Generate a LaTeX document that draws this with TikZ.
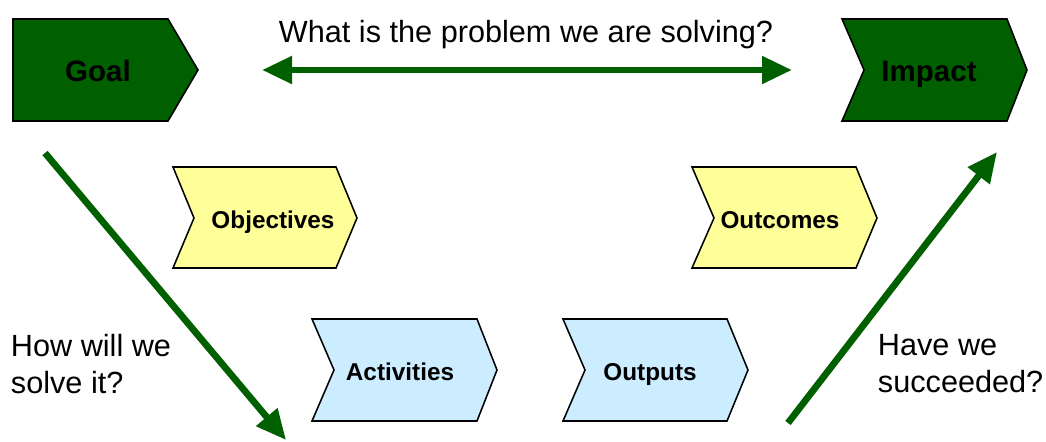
\documentclass[tikz,border=0pt]{standalone}
\usepackage{fontspec}
\setmainfont{Liberation Sans}
\usetikzlibrary{arrows.meta}

\definecolor{darkgreen}{RGB}{0,96,0}
\definecolor{palegold}{RGB}{255,255,153}
\definecolor{paleblue}{RGB}{204,236,255}

\tikzset{
  stage/.style={draw=black, line width=1.1pt, line join=miter},
  big/.style={anchor=base, font=\bfseries\fontsize{21}{25}\selectfont},
  small/.style={anchor=base, font=\bfseries\fontsize{17.3}{20}\selectfont},
  question/.style={font=\fontsize{21.8}{26.2}\selectfont, align=left},
  flow/.style={draw=darkgreen, line width=4.8pt,
    >={Triangle[length=0.75cm,width=0.66cm]}}
}

\begin{document}
\begin{tikzpicture}[x=0.025cm, y=-0.025cm]
  \useasboundingbox (0,0) rectangle (1046,441);

  % the two ends
  \draw[stage, fill=darkgreen] (13,19) -- (168,19) -- (198,70) -- (168,121) -- (13,121) -- cycle;
  \draw[stage, fill=darkgreen] (842,19) -- (1007,19) -- (1027,70) -- (1007,121) -- (842,121) -- (864,70) -- cycle;
  \node[big] (goal) at (98,81) {Goal};
  \node[big] (impact) at (929,81) {Impact};

  % middle row
  \draw[stage, fill=palegold] (173,167) -- (336,167) -- (357,218) -- (336,268) -- (173,268) -- (194,218) -- cycle;
  \draw[stage, fill=palegold] (692,167) -- (856,167) -- (877,218) -- (856,268) -- (692,268) -- (714,218) -- cycle;
  \node[small] (objectives) at (273,228) {Objectives};
  \node[small] (outcomes) at (780,228) {Outcomes};

  % bottom row
  \draw[stage, fill=paleblue] (312,319) -- (477,319) -- (497,370) -- (477,421) -- (312,421) -- (334,370) -- cycle;
  \draw[stage, fill=paleblue] (563,319) -- (727,319) -- (748,370) -- (727,421) -- (563,421) -- (585,370) -- cycle;
  \node[small] (activities) at (400,380) {Activities};
  \node[small] (outputs) at (650,380) {Outputs};

  % arrows
  \coordinate (west) at (262,70);
  \coordinate (east) at (792,70);
  \coordinate (down start) at (45,153);
  \coordinate (down end) at (286,440);
  \coordinate (up start) at (788,423);
  \coordinate (up end) at (997,152);
  \draw[flow, <->] (west) -- (east);
  \draw[flow, ->] (down start) -- (down end);
  \draw[flow, ->] (up start) -- (up end);

  % questions
  \node[question, anchor=base] (problem) at (526,42) {What is the problem we are solving?};
  \node[question, anchor=west] (solve) at (6,364) {How will we\\solve it?};
  \node[question, anchor=west] (succeed) at (873,364) {Have we\\succeeded?};
\end{tikzpicture}
\end{document}
